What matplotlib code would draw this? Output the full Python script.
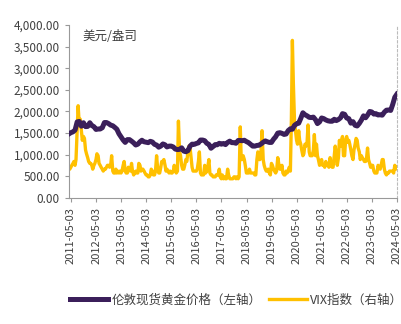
import matplotlib
matplotlib.use("Agg")
import matplotlib.pyplot as plt
import pandas as pd

plt.rcParams['font.family'] = ['Noto Sans CJK SC', 'DejaVu Sans']

# London spot gold, USD/oz, monthly from 2011-04 to 2024-05
gold = [
    1480, 1510, 1530, 1570, 1760, 1770, 1660, 1740, 1650,
    1655, 1740, 1675, 1650, 1585, 1595, 1595, 1625, 1745, 1745, 1720, 1685,
    1670, 1630, 1590, 1485, 1415, 1340, 1285, 1350, 1350, 1315, 1275, 1225,
    1245, 1300, 1335, 1300, 1290, 1280, 1310, 1295, 1240, 1225, 1175, 1200,
    1250, 1230, 1180, 1200, 1200, 1180, 1130, 1120, 1125, 1160, 1085, 1070,
    1095, 1200, 1245, 1240, 1260, 1275, 1340, 1340, 1325, 1265, 1240, 1150,
    1190, 1235, 1230, 1265, 1245, 1260, 1235, 1285, 1315, 1280, 1280, 1265,
    1330, 1330, 1325, 1335, 1305, 1280, 1240, 1200, 1200, 1215, 1220, 1250,
    1290, 1320, 1300, 1285, 1285, 1360, 1415, 1500, 1510, 1495, 1470, 1480,
    1560, 1600, 1590, 1680, 1715, 1730, 1840, 1970, 1925, 1900, 1865, 1860,
    1870, 1810, 1720, 1760, 1850, 1835, 1805, 1785, 1775, 1775, 1820, 1790,
    1815, 1855, 1950, 1935, 1850, 1835, 1730, 1765, 1680, 1665, 1725, 1800,
    1900, 1855, 1915, 2000, 1990, 1940, 1950, 1920, 1925, 1915, 1985, 2030,
    2035, 2025, 2160, 2330, 2400,
]

# VIX index, semi-monthly from 2011-04 to 2024-05
vix = [
    15, 15, 16, 17, 18, 19, 17, 20, 35, 48, 38, 41, 35, 30, 32, 31, 25, 23,
    21, 19, 18, 18, 17, 15, 17, 18, 20, 23, 22, 18, 17, 16, 15, 14, 15, 15, 16, 17, 17, 16, 17, 22,
    14, 13, 13, 15, 13, 14, 13, 14, 13, 14, 17, 19, 14, 13, 13, 16, 15, 14, 18, 14, 12, 13, 14, 13,
    13, 18, 17, 14, 15, 15, 14, 13, 12, 12, 11, 11, 12, 15, 14, 12, 12, 14, 22, 16, 13, 13, 16, 19,
    19, 20, 17, 14, 15, 14, 13, 14, 13, 13, 14, 17, 14, 13, 14, 40, 24, 22, 17, 15, 15, 17, 20, 19,
    24, 27, 26, 21, 16, 14, 14, 14, 14, 15, 19, 24, 13, 12, 12, 12, 17, 13, 14, 16, 20, 13, 12, 12,
    11, 11, 11, 12, 12, 12, 15, 11, 10, 12, 10, 11, 10, 10, 15, 12, 10, 10, 10, 10, 11, 11, 10, 11,
    10, 11, 37, 20, 20, 22, 20, 17, 13, 13, 13, 15, 13, 13, 13, 13, 12, 12, 20, 24, 20, 20, 25, 35,
    20, 17, 15, 14, 14, 15, 13, 12, 18, 17, 15, 14, 13, 14, 21, 18, 15, 15, 17, 13, 12, 12, 14, 13,
    14, 16, 14, 40, 82, 60, 40, 35, 30, 28, 35, 30, 28, 25, 22, 23, 28, 27, 29, 38, 24, 22, 22, 22,
    25, 33, 22, 28, 22, 20, 17, 18, 20, 17, 17, 16, 19, 17, 17, 16, 21, 18, 16, 16, 22, 27, 22, 17,
    21, 30, 27, 30, 32, 22, 22, 30, 32, 29, 30, 28, 25, 22, 20, 25, 28, 31, 30, 26, 24, 20, 22, 21,
    20, 19, 19, 21, 26, 20, 18, 16, 17, 17, 14, 13, 13, 13, 17, 16, 15, 17, 20, 20, 15, 13, 12, 13,
    13, 14, 14, 14, 14, 13, 17, 15, 16,
]

yticks = [0, 500, 1000, 1500, 2000, 2500, 3000, 3500, 4000]
tick_years = list(range(2011, 2025))

gold_dates = pd.date_range("2011-04-01", periods=len(gold), freq="MS")
vix_dates = pd.date_range("2011-04-01", periods=len(vix), freq="SMS")

fig = plt.figure(figsize=(4.02, 3.24), dpi=100)
ax = fig.add_axes([69 / 402, 1 - 198 / 324, (397 - 69) / 402, (198 - 25) / 324])
ax2 = ax.twinx()

gold_color = "#3b1f5a"
vix_color = "#ffc000"

l2, = ax2.plot(vix_dates, vix, color=vix_color, lw=2.4, label="VIX指数（右轴）", zorder=2)
l1, = ax.plot(gold_dates, gold, color=gold_color, lw=3.6, label="伦敦现货黄金价格（左轴）", zorder=3)
ax.set_zorder(ax2.get_zorder() + 1)
ax.patch.set_visible(False)

ax.set_ylim(0, 4000)
ax2.set_ylim(0, 90)
ax.set_yticks(yticks)
ax.set_yticklabels([f"{v:,.2f}" for v in yticks], fontsize=8.5, color="#404040")
ax2.set_yticks([])

ticks = [pd.Timestamp(f"{y}-05-03") for y in tick_years]
ax.set_xticks(ticks)
ax.set_xticklabels([t.strftime("%Y-%m-%d") for t in ticks], rotation=90, fontsize=8, color="#404040")
ax.set_xlim(pd.Timestamp("2011-04-04"), pd.Timestamp("2024-05-03"))

for a in (ax, ax2):
    a.spines["top"].set_visible(False)
ax.spines["right"].set_visible(False)
ax2.spines["left"].set_visible(False)
ax2.spines["bottom"].set_visible(False)
ax2.spines["right"].set_color("#bbbbbb")
ax2.spines["right"].set_linestyle((0, (2, 2)))
ax.spines["left"].set_color("#999999")
ax.spines["bottom"].set_color("#999999")
ax.tick_params(axis="both", colors="#999999", labelcolor="#404040", length=3, width=0.8)

ax.text(0.04, 0.97, "美元/盎司", transform=ax.transAxes, fontsize=9, color="#404040", va="top", ha="left")

fig.legend(handles=[l1, l2], loc="center left", bbox_to_anchor=(59 / 402, 1 - 300 / 324),
           ncol=2, frameon=False, fontsize=9, handlelength=3, columnspacing=0.6,
           handletextpad=0.3, labelcolor="#404040")

fig.savefig("out.png", dpi=100)
